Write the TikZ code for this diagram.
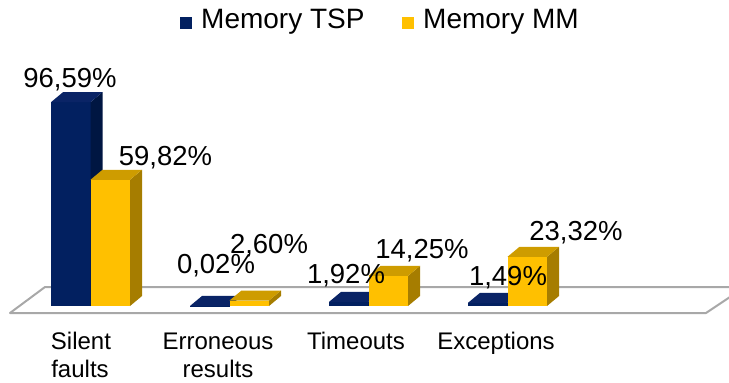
\documentclass[tikz,border=0pt]{standalone}
\usepackage{fontspec}
\setmainfont{Liberation Sans}
\definecolor{bfront}{RGB}{2,32,96}
\definecolor{bside}{RGB}{0,22,66}
\definecolor{btop}{RGB}{10,36,102}
\definecolor{yfront}{RGB}{255,192,0}
\definecolor{yside}{RGB}{166,125,0}
\definecolor{ytop}{RGB}{206,156,0}
\definecolor{floorline}{RGB}{168,168,168}
\newcommand{\drawbarx}[5]{%
  % #1 left x, #2 height, #3 front, #4 side, #5 top
  \fill[#3] (#1,306) rectangle ({#1+39.5},{306-#2});
  \fill[#4] ({#1+39.5},306) -- ({#1+51.5},296) -- ({#1+51.5},{296-#2}) -- ({#1+39.5},{306-#2}) -- cycle;
  \fill[#5] (#1,{306-#2}) -- ({#1+12},{296-#2}) -- ({#1+51.5},{296-#2}) -- ({#1+39.5},{306-#2}) -- cycle;
}
\tikzset{
  vallab/.style={font=\fontsize{27.5}{33}\selectfont, inner sep=0pt, anchor=base},
  catlab/.style={font=\fontsize{24}{28}\selectfont, inner sep=0pt, anchor=base},
  leglab/.style={font=\fontsize{28}{33}\selectfont, inner sep=0pt, anchor=base west},
}
\begin{document}
\begin{tikzpicture}[x=1pt,y=-1pt]
\useasboundingbox (0,0) rectangle (729,383);
% floor
\begin{scope}
\clip (0,0) rectangle (729,383);
\draw[floorline, line width=2pt, line join=round] (45,287) -- (745,287) -- (706,313) -- (10,313) -- cycle;
\end{scope}
% bars
\def\s{2.11}
\drawbarx{51}{96.59*\s}{bfront}{bside}{btop}
\drawbarx{90.5}{59.82*\s}{yfront}{yside}{ytop}
\drawbarx{190}{0.02*\s}{bfront}{bside}{btop}
\drawbarx{229.5}{2.60*\s}{yfront}{yside}{ytop}
\drawbarx{329}{1.92*\s}{bfront}{bside}{btop}
\drawbarx{368.5}{14.25*\s}{yfront}{yside}{ytop}
\drawbarx{468}{1.49*\s}{bfront}{bside}{btop}
\drawbarx{507.5}{23.32*\s}{yfront}{yside}{ytop}
% value labels
\node[vallab] (v1) at (70,87) {96,59\%};
\node[vallab] (v2) at (165.5,165) {59,82\%};
\node[vallab] (v3) at (216,273) {0,02\%};
\node[vallab] (v4) at (269,253) {2,60\%};
\node[vallab] (v5) at (346,283) {1,92\%};
\node[vallab] (v6) at (422,258) {14,25\%};
\node[vallab] (v7) at (508,285) {1,49\%};
\node[vallab] (v8) at (576,240) {23,32\%};
% category labels
\node[catlab] (c1a) at (81,349) {Silent};
\node[catlab] (c1b) at (80,377) {faults};
\node[catlab] (c2a) at (218,349) {Erroneous};
\node[catlab] (c2b) at (218,377) {results};
\node[catlab] (c3) at (356,349) {Timeouts};
\node[catlab] (c4) at (496,349) {Exceptions};
% legend
\fill[bfront] (180,17) rectangle (192,29);
\node[leglab] (l1) at (201,28) {Memory TSP};
\fill[yfront] (402,17) rectangle (414,29);
\node[leglab] (l2) at (423,28) {Memory MM};
\end{tikzpicture}
\end{document}
